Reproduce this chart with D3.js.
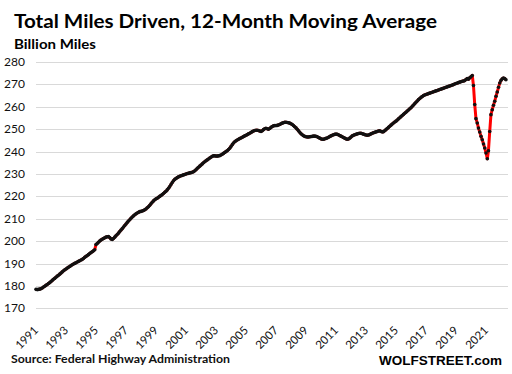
<!DOCTYPE html>
<html>
<head>
<meta charset="utf-8">
<script src="https://cdn.jsdelivr.net/npm/d3@7"></script>
<style>
  body { margin: 0; background: #fff; }
  text { font-family: Lato, "Open Sans", sans-serif; fill: #111; }
  .title { font-weight: bold; font-size: 19.5px; fill: #000; }
  .subtitle { font-weight: bold; font-size: 14px; fill: #000; }
  .ylabel { font-size: 12px; }
  .xlabel { font-size: 11.5px; }
  .source { font-weight: bold; font-size: 12px; }
  .brand { font-family: "Liberation Sans", Arial, sans-serif; font-weight: bold; font-size: 13.5px; fill: #000; }
  .grid { stroke: #d9d9d9; stroke-width: 1; }
</style>
</head>
<body>
<div id="chart-area"></div>
<script>
// 12-month moving average, billion miles, one row per year, Jan 1991 - May 2022
var startYear = 1991;
var miles = [
  178.5, 178.4, 178.5, 178.6, 178.8, 179.1, 179.5, 179.9, 180.3, 180.7, 181.1, 181.5, // 1991
  182.0, 182.5, 183.0, 183.4, 183.9, 184.4, 184.8, 185.3, 185.8, 186.3, 186.8, 187.2, // 1992
  187.6, 188.0, 188.4, 188.7, 189.1, 189.5, 189.8, 190.1, 190.4, 190.7, 191.0, 191.3, // 1993
  191.6, 191.9, 192.3, 192.8, 193.2, 193.6, 194.0, 194.5, 194.9, 195.3, 195.7, 196.2, // 1994
  198.5, 199.0, 199.5, 200.1, 200.5, 200.9, 201.2, 201.5, 201.8, 202.0, 202.1, 201.6, // 1995
  201.0, 200.8, 201.2, 201.8, 202.4, 203.0, 203.6, 204.3, 205.0, 205.6, 206.3, 207.0, // 1996
  207.7, 208.4, 209.0, 209.6, 210.2, 210.8, 211.3, 211.8, 212.2, 212.6, 212.9, 213.2, // 1997
  213.3, 213.5, 213.7, 214.0, 214.4, 214.9, 215.4, 216.0, 216.7, 217.4, 218.0, 218.5, // 1998
  218.9, 219.2, 219.6, 220.0, 220.4, 220.8, 221.3, 221.8, 222.3, 222.9, 223.6, 224.4, // 1999
  225.3, 226.2, 227.0, 227.6, 228.0, 228.4, 228.7, 229.0, 229.2, 229.4, 229.6, 229.8, // 2000
  230.0, 230.2, 230.3, 230.5, 230.6, 230.8, 231.0, 231.4, 231.9, 232.5, 233.0, 233.5, // 2001
  234.0, 234.5, 235.0, 235.5, 235.9, 236.3, 236.7, 237.1, 237.5, 237.9, 238.1, 238.1, // 2002
  238.0, 238.0, 238.1, 238.2, 238.5, 238.8, 239.2, 239.6, 240.0, 240.4, 240.9, 241.5, // 2003
  242.3, 243.1, 243.8, 244.4, 244.8, 245.2, 245.5, 245.8, 246.1, 246.4, 246.7, 247.0, // 2004
  247.3, 247.6, 247.9, 248.2, 248.5, 248.9, 249.2, 249.4, 249.5, 249.5, 249.4, 249.2, // 2005
  249.0, 249.3, 249.8, 250.2, 250.4, 250.2, 250.0, 250.3, 250.8, 251.2, 251.5, 251.6, // 2006
  251.6, 251.7, 251.9, 252.1, 252.4, 252.7, 252.9, 253.1, 253.1, 253.0, 252.9, 252.7, // 2007
  252.4, 252.1, 251.6, 251.1, 250.6, 250.0, 249.3, 248.6, 248.0, 247.5, 247.1, 246.8, // 2008
  246.6, 246.5, 246.5, 246.6, 246.7, 246.8, 246.9, 246.9, 246.8, 246.6, 246.3, 246.0, // 2009
  245.7, 245.5, 245.5, 245.7, 245.9, 246.1, 246.4, 246.7, 247.0, 247.3, 247.5, 247.7, // 2010
  247.8, 247.7, 247.5, 247.2, 246.9, 246.6, 246.3, 246.0, 245.7, 245.5, 245.6, 246.0, // 2011
  246.5, 247.0, 247.3, 247.5, 247.7, 247.9, 248.1, 248.2, 248.2, 248.0, 247.8, 247.6, // 2012
  247.4, 247.3, 247.4, 247.6, 247.9, 248.2, 248.4, 248.6, 248.8, 249.0, 249.2, 249.3, // 2013
  249.0, 248.8, 248.9, 249.3, 249.8, 250.3, 250.8, 251.3, 251.8, 252.3, 252.8, 253.2, // 2014
  253.6, 254.1, 254.6, 255.1, 255.6, 256.1, 256.6, 257.1, 257.6, 258.1, 258.6, 259.1, // 2015
  259.6, 260.2, 260.8, 261.4, 262.0, 262.6, 263.2, 263.7, 264.2, 264.6, 265.0, 265.3, // 2016
  265.5, 265.7, 265.9, 266.1, 266.3, 266.5, 266.7, 266.9, 267.1, 267.3, 267.5, 267.7, // 2017
  267.9, 268.1, 268.3, 268.5, 268.7, 268.9, 269.1, 269.3, 269.5, 269.7, 269.9, 270.2, // 2018
  270.4, 270.6, 270.8, 271.0, 271.2, 271.4, 271.5, 271.7, 272.2, 272.6, 272.3, 273.0, // 2019
  273.4, 274.0, 269.5, 261.0, 254.7, 252.8, 250.5, 248.7, 246.8, 245.3, 243.4, 241.6, // 2020
  239.4, 236.8, 240.4, 249.0, 256.5, 258.7, 260.7, 262.5, 264.7, 266.6, 268.7, 270.6, // 2021
  271.8, 272.5, 272.8, 272.6, 272.1                                                    // 2022
];

var yTicks = [170, 180, 190, 200, 210, 220, 230, 240, 250, 260, 270, 280];
var xTickYears = [1991, 1993, 1995, 1997, 1999, 2001, 2003, 2005, 2007, 2009, 2011, 2013, 2015, 2017, 2019, 2021];

var titleText = "Total Miles Driven, 12-Month Moving Average";
var unitText = "Billion Miles";
var sourceText = "Source: Federal Highway Administration";
var brandText = "WOLFSTREET.com";

var width = 512, height = 374;

var svg = d3.select("#chart-area")
    .append("svg")
    .attr("width", width)
    .attr("height", height);

var data = miles.map(function(v, i) {
    return {date: new Date(startYear + Math.floor(i / 12), i % 12, 1), value: v};
});

var x = d3.scaleTime()
    .domain([new Date(1991, 0, 1), new Date(2022, 5, 20)])
    .range([36, 508]);

var y = d3.scaleLinear()
    .domain([170, 280])
    .range([308.4, 62]);

// gridlines
svg.selectAll(".grid")
    .data(yTicks)
    .enter().append("line")
    .attr("class", "grid")
    .attr("x1", x.range()[0])
    .attr("x2", x.range()[1])
    .attr("y1", function(d) { return Math.round(y(d)) + 0.5; })
    .attr("y2", function(d) { return Math.round(y(d)) + 0.5; });

// y labels
svg.selectAll(".ylabel")
    .data(yTicks)
    .enter().append("text")
    .attr("class", "ylabel")
    .attr("x", 25)
    .attr("y", function(d) { return y(d) + 4; })
    .attr("text-anchor", "end")
    .text(function(d) { return d; });

// x labels, rotated
svg.selectAll(".xlabel")
    .data(xTickYears)
    .enter().append("text")
    .attr("class", "xlabel")
    .attr("text-anchor", "end")
    .attr("transform", function(d) {
        return "translate(" + (x(new Date(d, 0, 1)) + 3) + ",331) rotate(-45)";
    })
    .text(function(d) { return d; });

// the line
var line = d3.line()
    .x(function(d) { return x(d.date); })
    .y(function(d) { return y(d.value); });

svg.append("path")
    .datum(data)
    .attr("fill", "none")
    .attr("stroke", "#ff0000")
    .attr("stroke-width", 3)
    .attr("stroke-linejoin", "round")
    .attr("d", line);

svg.selectAll(".dot")
    .data(data)
    .enter().append("circle")
    .attr("class", "dot")
    .attr("cx", function(d) { return x(d.date); })
    .attr("cy", function(d) { return y(d.value); })
    .attr("r", 1.8)
    .attr("fill", "#111");

// texts
svg.append("text")
    .attr("class", "title")
    .attr("x", 14)
    .attr("y", 28)
    .attr("textLength", 423)
    .attr("lengthAdjust", "spacingAndGlyphs")
    .text(titleText);

svg.append("text")
    .attr("class", "subtitle")
    .attr("x", 14)
    .attr("y", 48.5)
    .attr("textLength", 82)
    .attr("lengthAdjust", "spacingAndGlyphs")
    .text(unitText);

svg.append("text")
    .attr("class", "source")
    .attr("x", 11)
    .attr("y", 363)
    .attr("textLength", 219)
    .attr("lengthAdjust", "spacingAndGlyphs")
    .text(sourceText);

svg.append("text")
    .attr("class", "brand")
    .attr("x", 502)
    .attr("y", 365)
    .attr("text-anchor", "end")
    .text(brandText);
</script>
</body>
</html>
